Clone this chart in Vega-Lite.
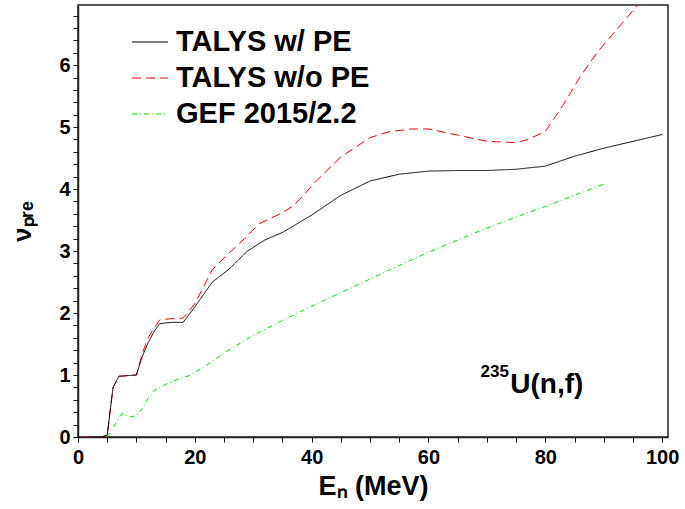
{
  "$schema": "https://vega.github.io/schema/vega-lite/v6.json",
  "autosize": "none",
  "width": 590,
  "height": 432,
  "padding": {"left": 78, "top": 5, "right": 17, "bottom": 72},
  "background": "white",
  "config": {
    "font": "Liberation Sans",
    "view": {"stroke": "#222", "strokeWidth": 1.5}
  },
  "encoding": {
    "x": {
      "field": "E", "type": "quantitative",
      "scale": {"domain": [0, 101], "nice": false, "zero": false},
      "axis": {
        "title": "Eₙ (MeV)", "zindex": 1,
        "titleFont": "Liberation Sans", "titleFontSize": 27, "titleFontWeight": "bold", "titleColor": "black",
        "titleBaseline": "alphabetic", "titleY": 57,
        "values": [0,5,10,15,20,25,30,35,40,45,50,55,60,65,70,75,80,85,90,95,100],
        "labelExpr": "datum.value % 20 === 0 ? datum.label : ''",
        "labelFont": "Liberation Sans", "labelFontSize": 20, "labelFontWeight": "bold", "labelColor": "black",
        "labelPadding": 5, "labelFlush": false, "labelOverlap": false,
        "ticks": true, "tickSize": 5,
        "tickColor": "black", "tickWidth": 1,
        "domainColor": "#222", "domainWidth": 1.5, "grid": false,
        "encode": {"ticks": {"update": {"y2": {"signal": "datum.value % 20 === 0 ? -11 : -5"}}}}
      }
    },
    "y": {
      "field": "v", "type": "quantitative",
      "scale": {"domain": [0, 6.97], "nice": false, "zero": false},
      "axis": {
        "title": "νₚᵣₑ", "zindex": 1,
        "titleFont": "Liberation Sans", "titleFontSize": 26, "titleFontWeight": "bold", "titleColor": "black",
        "titleBaseline": "alphabetic", "titleX": -48,
        "values": [0,0.2,0.4,0.6,0.8,1,1.2,1.4,1.6,1.8,2,2.2,2.4,2.6,2.8,3,3.2,3.4,3.6,3.8,4,4.2,4.4,4.6,4.8,5,5.2,5.4,5.6,5.8,6,6.2,6.4,6.6,6.8],
        "labelExpr": "abs(datum.value - round(datum.value)) < 0.01 ? format(datum.value, 'd') : ''",
        "labelFont": "Liberation Sans", "labelFontSize": 20, "labelFontWeight": "bold", "labelColor": "black",
        "labelPadding": 3, "labelFlush": false, "labelOverlap": false,
        "ticks": true, "tickSize": 5,
        "tickColor": "black", "tickWidth": 1,
        "domainColor": "#222", "domainWidth": 1.5, "grid": false,
        "encode": {"ticks": {"update": {"x2": {"signal": "abs(datum.value - round(datum.value)) < 0.01 ? 19 : 9"}}}}
      }
    }
  },
  "layer": [
    {
      "data": {
        "values": [
          {"E": 1, "v": 0, "s": "TALYS w/o PE"},
          {"E": 4, "v": 0, "s": "TALYS w/o PE"},
          {"E": 5, "v": 0.03, "s": "TALYS w/o PE"},
          {"E": 6, "v": 0.8, "s": "TALYS w/o PE"},
          {"E": 7, "v": 0.98, "s": "TALYS w/o PE"},
          {"E": 10, "v": 1.0, "s": "TALYS w/o PE"},
          {"E": 11, "v": 1.35, "s": "TALYS w/o PE"},
          {"E": 12, "v": 1.6, "s": "TALYS w/o PE"},
          {"E": 13, "v": 1.75, "s": "TALYS w/o PE"},
          {"E": 14, "v": 1.89, "s": "TALYS w/o PE"},
          {"E": 16, "v": 1.91, "s": "TALYS w/o PE"},
          {"E": 18, "v": 1.92, "s": "TALYS w/o PE"},
          {"E": 20, "v": 2.15, "s": "TALYS w/o PE"},
          {"E": 23, "v": 2.7, "s": "TALYS w/o PE"},
          {"E": 26, "v": 2.98, "s": "TALYS w/o PE"},
          {"E": 28.5, "v": 3.2, "s": "TALYS w/o PE"},
          {"E": 31, "v": 3.44, "s": "TALYS w/o PE"},
          {"E": 35, "v": 3.62, "s": "TALYS w/o PE"},
          {"E": 37, "v": 3.74, "s": "TALYS w/o PE"},
          {"E": 41, "v": 4.15, "s": "TALYS w/o PE"},
          {"E": 45, "v": 4.52, "s": "TALYS w/o PE"},
          {"E": 50, "v": 4.83, "s": "TALYS w/o PE"},
          {"E": 53, "v": 4.92, "s": "TALYS w/o PE"},
          {"E": 57, "v": 4.97, "s": "TALYS w/o PE"},
          {"E": 60, "v": 4.97, "s": "TALYS w/o PE"},
          {"E": 65, "v": 4.87, "s": "TALYS w/o PE"},
          {"E": 70, "v": 4.77, "s": "TALYS w/o PE"},
          {"E": 75, "v": 4.75, "s": "TALYS w/o PE"},
          {"E": 77, "v": 4.8, "s": "TALYS w/o PE"},
          {"E": 80, "v": 4.93, "s": "TALYS w/o PE"},
          {"E": 83, "v": 5.35, "s": "TALYS w/o PE"},
          {"E": 86, "v": 5.82, "s": "TALYS w/o PE"},
          {"E": 89, "v": 6.22, "s": "TALYS w/o PE"},
          {"E": 92, "v": 6.55, "s": "TALYS w/o PE"},
          {"E": 95, "v": 6.88, "s": "TALYS w/o PE"},
          {"E": 100, "v": 7.4, "s": "TALYS w/o PE"},
          {"E": 5, "v": 0, "s": "GEF 2015/2.2"},
          {"E": 6, "v": 0.15, "s": "GEF 2015/2.2"},
          {"E": 7.5, "v": 0.38, "s": "GEF 2015/2.2"},
          {"E": 9, "v": 0.33, "s": "GEF 2015/2.2"},
          {"E": 10, "v": 0.34, "s": "GEF 2015/2.2"},
          {"E": 11, "v": 0.46, "s": "GEF 2015/2.2"},
          {"E": 12, "v": 0.62, "s": "GEF 2015/2.2"},
          {"E": 13, "v": 0.75, "s": "GEF 2015/2.2"},
          {"E": 15, "v": 0.85, "s": "GEF 2015/2.2"},
          {"E": 17, "v": 0.93, "s": "GEF 2015/2.2"},
          {"E": 19, "v": 0.99, "s": "GEF 2015/2.2"},
          {"E": 21, "v": 1.1, "s": "GEF 2015/2.2"},
          {"E": 23, "v": 1.22, "s": "GEF 2015/2.2"},
          {"E": 25, "v": 1.36, "s": "GEF 2015/2.2"},
          {"E": 27, "v": 1.47, "s": "GEF 2015/2.2"},
          {"E": 30, "v": 1.64, "s": "GEF 2015/2.2"},
          {"E": 35, "v": 1.88, "s": "GEF 2015/2.2"},
          {"E": 40, "v": 2.11, "s": "GEF 2015/2.2"},
          {"E": 45, "v": 2.33, "s": "GEF 2015/2.2"},
          {"E": 50, "v": 2.55, "s": "GEF 2015/2.2"},
          {"E": 55, "v": 2.77, "s": "GEF 2015/2.2"},
          {"E": 60, "v": 2.98, "s": "GEF 2015/2.2"},
          {"E": 65, "v": 3.18, "s": "GEF 2015/2.2"},
          {"E": 70, "v": 3.37, "s": "GEF 2015/2.2"},
          {"E": 75, "v": 3.55, "s": "GEF 2015/2.2"},
          {"E": 80, "v": 3.72, "s": "GEF 2015/2.2"},
          {"E": 85, "v": 3.9, "s": "GEF 2015/2.2"},
          {"E": 90, "v": 4.08, "s": "GEF 2015/2.2"},
          {"E": 2, "v": 0, "s": "TALYS w/ PE"},
          {"E": 4, "v": 0, "s": "TALYS w/ PE"},
          {"E": 5, "v": 0.03, "s": "TALYS w/ PE"},
          {"E": 6, "v": 0.8, "s": "TALYS w/ PE"},
          {"E": 7, "v": 0.98, "s": "TALYS w/ PE"},
          {"E": 10, "v": 1.0, "s": "TALYS w/ PE"},
          {"E": 11, "v": 1.3, "s": "TALYS w/ PE"},
          {"E": 12, "v": 1.52, "s": "TALYS w/ PE"},
          {"E": 13, "v": 1.7, "s": "TALYS w/ PE"},
          {"E": 14, "v": 1.83, "s": "TALYS w/ PE"},
          {"E": 16, "v": 1.85, "s": "TALYS w/ PE"},
          {"E": 18, "v": 1.85, "s": "TALYS w/ PE"},
          {"E": 20, "v": 2.1, "s": "TALYS w/ PE"},
          {"E": 23, "v": 2.5, "s": "TALYS w/ PE"},
          {"E": 26, "v": 2.72, "s": "TALYS w/ PE"},
          {"E": 29, "v": 3.0, "s": "TALYS w/ PE"},
          {"E": 32, "v": 3.18, "s": "TALYS w/ PE"},
          {"E": 35, "v": 3.3, "s": "TALYS w/ PE"},
          {"E": 40, "v": 3.58, "s": "TALYS w/ PE"},
          {"E": 45, "v": 3.9, "s": "TALYS w/ PE"},
          {"E": 50, "v": 4.13, "s": "TALYS w/ PE"},
          {"E": 55, "v": 4.24, "s": "TALYS w/ PE"},
          {"E": 60, "v": 4.29, "s": "TALYS w/ PE"},
          {"E": 65, "v": 4.3, "s": "TALYS w/ PE"},
          {"E": 70, "v": 4.3, "s": "TALYS w/ PE"},
          {"E": 75, "v": 4.32, "s": "TALYS w/ PE"},
          {"E": 80, "v": 4.37, "s": "TALYS w/ PE"},
          {"E": 85, "v": 4.53, "s": "TALYS w/ PE"},
          {"E": 90, "v": 4.66, "s": "TALYS w/ PE"},
          {"E": 95, "v": 4.77, "s": "TALYS w/ PE"},
          {"E": 100, "v": 4.88, "s": "TALYS w/ PE"}
        ]
      },
      "mark": {"type": "line", "strokeWidth": 1, "clip": true},
      "encoding": {
        "color": {
          "field": "s", "type": "nominal",
          "scale": {"domain": ["TALYS w/ PE", "TALYS w/o PE", "GEF 2015/2.2"], "range": ["black", "#ff0000", "#00ee00"]},
          "legend": {
            "title": null, "orient": "none", "legendX": 53, "legendY": 18, "padding": 0,
            "symbolType": "stroke", "symbolSize": 1296, "symbolStrokeWidth": 1.2,
            "labelFont": "Liberation Sans", "labelFontSize": 29, "labelFontWeight": "bold", "labelColor": "black",
            "labelOffset": 7, "rowPadding": 2, "labelLimit": 500,
            "encode": {"symbols": {"update": {
              "stroke": {"scale": "color", "field": "value"},
              "strokeDash": {"scale": "strokeDash", "field": "value"}
            }}}
          }
        },
        "strokeDash": {
          "field": "s", "type": "nominal",
          "scale": {"domain": ["TALYS w/ PE", "TALYS w/o PE", "GEF 2015/2.2"], "range": [[1, 0], [9, 5], [5, 3, 1, 3]]},
          "legend": null
        }
      }
    },
    {
      "data": {"values": [{"E": 74, "v": 0.71, "label": "U(n,f)"}]},
      "mark": {"type": "text", "font": "Liberation Sans", "fontSize": 28, "fontWeight": "bold", "align": "left", "baseline": "alphabetic", "color": "black"},
      "encoding": {"text": {"field": "label"}}
    },
    {
      "data": {"values": [{"E": 68.9, "v": 0.97, "label": "235"}]},
      "mark": {"type": "text", "font": "Liberation Sans", "fontSize": 17, "fontWeight": "bold", "align": "left", "baseline": "alphabetic", "color": "black"},
      "encoding": {"text": {"field": "label"}}
    }
  ]
}
